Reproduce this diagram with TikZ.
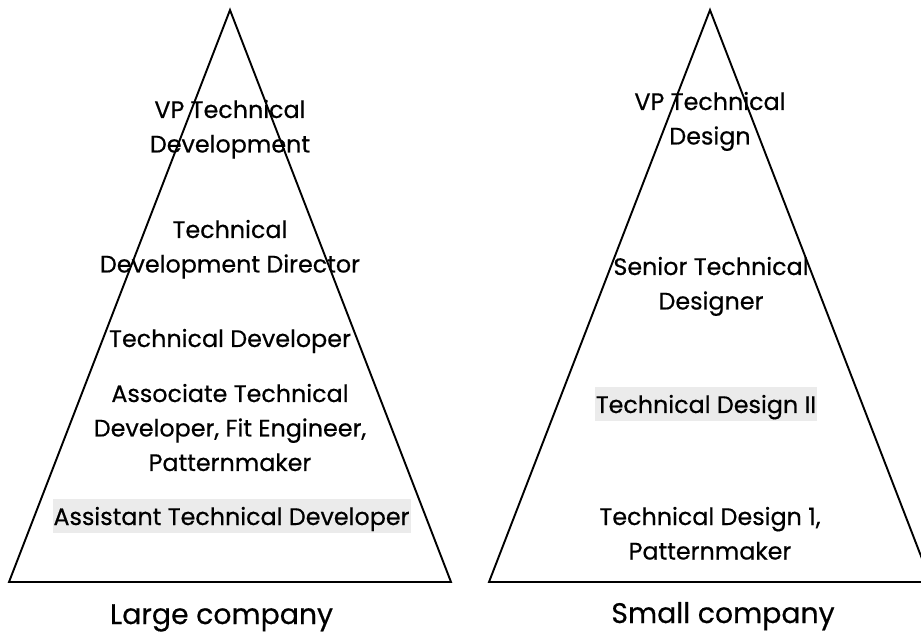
\documentclass[tikz,border=0pt]{standalone}
\usepackage{fontspec}
\setmainfont{Poppins}[FakeBold=0.5]
\definecolor{hlgray}{HTML}{EBEBEB}
\newlength\refwd
\settowidth{\refwd}{\fontsize{10pt}{12pt}\selectfont Assistant Technical Developer}
\pgfmathsetmacro\bodysize{10*356/\refwd}
\newlength\refwdb
\settowidth{\refwdb}{\fontsize{10pt}{12pt}\selectfont Large company}
\pgfmathsetmacro\titlesize{10*223/\refwdb}
\newcommand\bodyfont{\fontsize{\bodysize pt}{34.5pt}\selectfont}
\newcommand\titlefont{\fontsize{\titlesize pt}{40pt}\selectfont}
\newcommand\stackedlines[1]{\begin{tabular}[t]{@{}c@{}}#1\end{tabular}}
\tikzset{
  pyr/.style={draw, line width=1.9pt, line join=miter},
  lbl/.style={anchor=base, inner sep=0pt, font=\bodyfont},
  hl/.style={fill=hlgray, inner xsep=1pt, inner ysep=0pt, text height=26pt, text depth=8pt},
  captitle/.style={anchor=base, inner sep=0pt, font=\titlefont}
}
\begin{document}
\begin{tikzpicture}[x=1pt,y=1pt]
\useasboundingbox (0,0) rectangle (921,635);
\clip (0,0) rectangle (921,635);
\fill[white] (0,0) rectangle (921,635);
% left pyramid
\draw[pyr] (9,53) -- (230,625) -- (451,53) -- cycle;
\node[lbl, hl] (ltd5) at (231.5,110) {Assistant Technical Developer};
\node[lbl] (ltd1) at (230,517) {\stackedlines{VP Technical\\Development}};
\node[lbl] (ltd2) at (230,397) {\stackedlines{Technical\\Development Director}};
\node[lbl] (ltd3) at (230,288) {Technical Developer};
\node[lbl] (ltd4) at (230,233) {\stackedlines{Associate Technical\\Developer, Fit Engineer,\\Patternmaker}};
\node[captitle] (lcap) at (221.5,11) {Large company};
% right pyramid
\draw[pyr] (489,53) -- (710,625) -- (931,53) -- cycle;
\node[lbl, hl] (rtd3) at (706,222) {Technical Design II};
\node[lbl] (rtd1) at (710,525) {\stackedlines{VP Technical\\Design}};
\node[lbl] (rtd2) at (711,360) {\stackedlines{Senior Technical\\Designer}};
\node[lbl] (rtd4) at (710,110) {\stackedlines{Technical Design 1,\\Patternmaker}};
\node[captitle] (rcap) at (723,12) {Small company};
\end{tikzpicture}
\end{document}
